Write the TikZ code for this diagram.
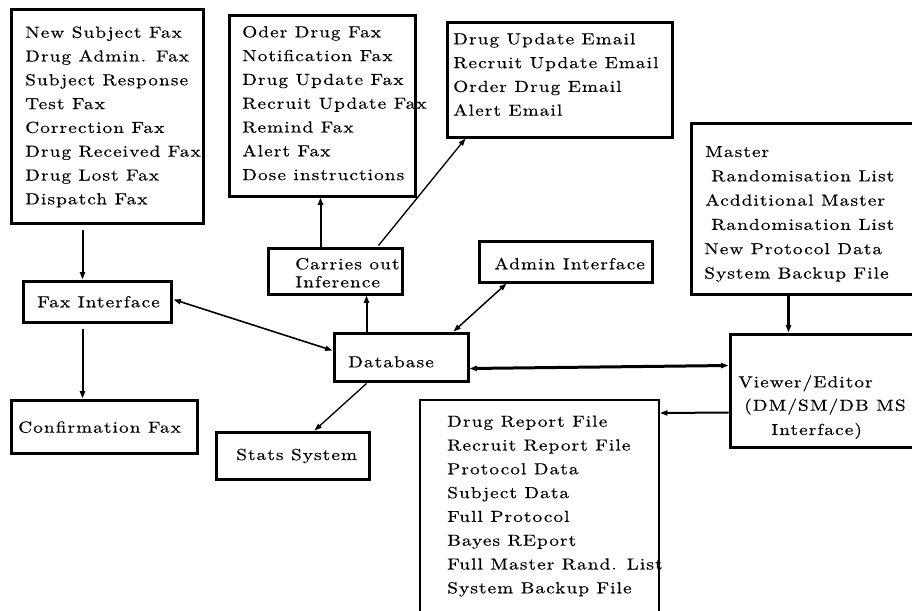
\documentclass[tikz,border=0pt]{standalone}
\usepackage{fontspec}
\usetikzlibrary{arrows.meta,fit}
\newfontfamily\lmwide{lmroman10-regular.otf}[FakeStretch=1.2,LetterSpace=7,FakeBold=0.4]

\tikzset{
  box/.style={draw, line width=2.25pt, inner sep=0pt},
  thinbox/.style={draw, line width=1.5pt, inner sep=0pt},
  txt/.style={inner sep=0pt, anchor=base west,
    font={\lmwide\fontsize{12}{14}\selectfont}},
  tip/.style={-{Triangle[length=5.5pt,width=3.8pt]}},
  dtip/.style={{Triangle[length=5.5pt,width=3.8pt]}-{Triangle[length=5.5pt,width=3.8pt]}},
}

\begin{document}
\begin{tikzpicture}[x=0.75pt,y=-0.75pt]
\useasboundingbox (0,0) rectangle (912,610);
\clip (0,0) rectangle (912,610);

% boxes
\node[box, fit={(11,10) (203,223)}] (faxlist) {};
\node[box, fit={(229,16) (415,196)}] (outfax) {};
\node[box, fit={(447,23) (672,137)}] (email) {};
\node[box, fit={(691,123) (925,294)}] (master) {};
\node[box, fit={(479,241) (652,282)}] (admin) {};
\node[box, fit={(268,248) (402,294)}] (infer) {};
\node[box, fit={(23,281) (171,322)}] (faxif) {};
\node[box, fit={(334,333) (468,381)}] (db) {};
\node[box, fit={(11,400) (197,453)}] (conf) {};
\node[box, fit={(216,432) (369,479)}] (stats) {};
\node[box, fit={(730,334) (925,447)}] (viewer) {};
\node[thinbox, fit={(420,400) (659,620)}] (report) {};

% box texts
\foreach \t [count=\i] in {New Subject Fax, Drug Admin. Fax, Subject Response,
    Test Fax, Correction Fax, Drug Received Fax, Drug Lost Fax, Dispatch Fax}
  \node[txt] (faxlist-\i) at (25, 37.7+23.8*\i-23.8) {\t};

\foreach \t [count=\i] in {Oder Drug Fax, Notification Fax, Drug Update Fax,
    Recruit Update Fax, Remind Fax, Alert Fax, Dose instructions}
  \node[txt] (outfax-\i) at (242, 37.3+23.8*\i-23.8) {\t};

\foreach \t [count=\i] in {Drug Update Email, Recruit Update Email,
    Order Drug Email, Alert Email}
  \node[txt] (email-\i) at (453, 44.3+23.8*\i-23.8) {\t};

\foreach \x/\t [count=\i] in {705/Master, 711/Randomisation List,
    705/Acdditional Master, 711/Randomisation List,
    704/New Protocol Data, 704/System Backup File}
  \node[txt] (master-\i) at (\x, 157+24.3*\i-24.3) {\t};

\node[txt] (admin-t) at (494,269.3) {Admin Interface};
\node[txt] (infer-1) at (295,269.3) {Carries out};
\node[txt] (infer-2) at (295,287.3) {Inference};
\node[txt] (faxif-t) at (37,307.3) {Fax Interface};
\node[txt] (db-t) at (348,367.3) {Database};
\node[txt] (conf-t) at (18,432.7) {Confirmation Fax};
\node[txt] (stats-t) at (236,460) {Stats System};

\node[txt] (viewer-1) at (738,387.3) {Viewer/Editor};
\node[txt] (viewer-2) at (744,410.7) {(DM/SM/DB MS};
\node[txt] (viewer-3) at (771,435) {Interface)};

\foreach \t [count=\i] in {Drug Report File, Recruit Report File, Protocol Data,
    Subject Data, Full Protocol, Bayes REport, Full Master Rand. List,
    System Backup File}
  \node[txt] (report-\i) at (447, 426.7+23.8*\i-23.8) {\t};

% connectors
\draw[tip, line width=1.5pt] ([shift={(73,5)}]faxlist.south west)
  -- ([shift={(61,0)}]faxif.north west);
\draw[tip, line width=1.5pt] ([shift={(61,5)}]faxif.south west)
  -- ([shift={(73,0)}]conf.north west);
\draw[dtip, line width=1.2pt] ([shift={(1,-2)}]faxif.east)
  -- ([shift={(0,19)}]db.north west);
\draw[tip, line width=1.5pt] ([shift={(34,0)}]db.north west)
  -- ([shift={(100,0)}]infer.south west);
\draw[tip, line width=1.5pt] ([shift={(54,0)}]infer.north west)
  -- ([shift={(93,0)}]outfax.south west);
\draw[tip, line width=1pt] ([shift={(112,-1)}]infer.north west)
  -- ([shift={(20,0)}]email.south west);
\draw[tip, line width=1pt] ([shift={(34,1)}]db.south west)
  -- ([shift={(100,0)}]stats.north west);
\draw[dtip, line width=1.1pt] ([shift={(29,0)}]admin.south west)
  -- ([shift={(121,0)}]db.north west);
\draw[dtip, line width=2.25pt] ([shift={(0,-14)}]db.south east)
  -- ([shift={(0,33)}]viewer.north west);
\draw[tip, line width=1.5pt] ([shift={(0,80)}]viewer.north west)
  -- ([shift={(0,14)}]report.north east);
\draw[tip, line width=2.25pt] ([shift={(99,0)}]master.south west)
  -- ([shift={(60,0)}]viewer.north west);
\end{tikzpicture}
\end{document}
